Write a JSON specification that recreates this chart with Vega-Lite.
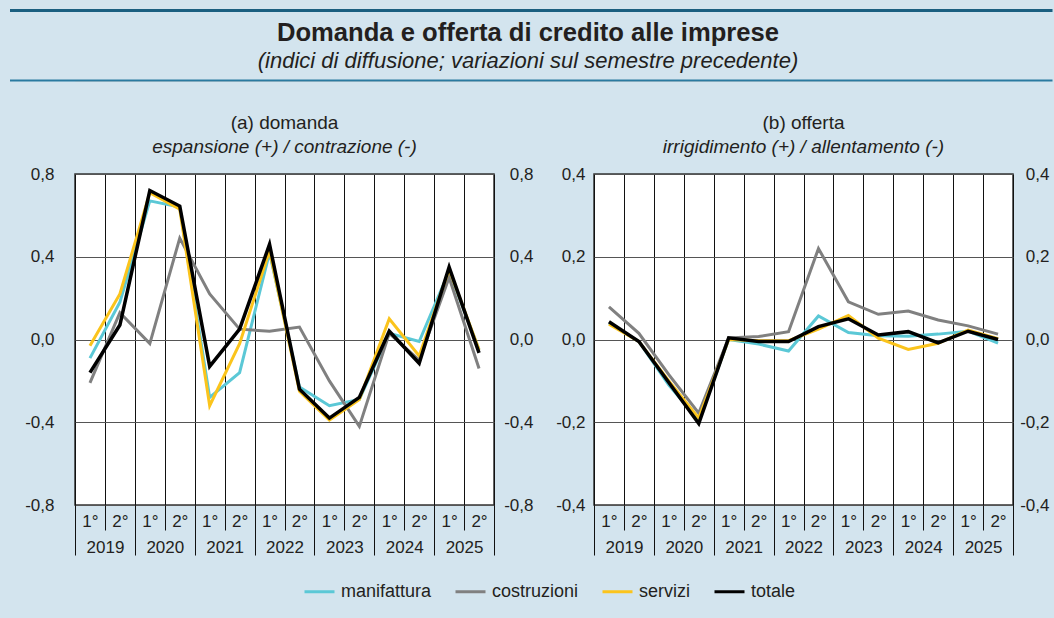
{
 "$schema": "https://vega.github.io/schema/vega-lite/v6.json",
 "background": "#d3e4ee",
 "padding": {"left": 9, "top": 9, "right": 0, "bottom": 17},
 "config": {
  "locale": {"number": {"decimal": ",", "thousands": ".", "grouping": [3], "currency": ["", " €"], "minus": "-"}},
  "font": "Liberation Sans",
  "axis": {"labelFont": "Liberation Sans", "labelFontSize": 17, "labelColor": "#231f20", "domain": false, "title": null, "labelOverlap": false, "labelFlush": false},
  "title": {"font": "Liberation Sans", "fontSize": 19, "fontWeight": "normal", "color": "#231f20", "subtitleFont": "Liberation Sans", "subtitleFontSize": 19, "subtitleFontStyle": "italic", "subtitleColor": "#231f20", "subtitlePadding": 5},
  "legend": {"labelFont": "Liberation Sans", "labelFontSize": 18, "labelColor": "#231f20"}
 },
 "data": {"values": [
  {"pannello":"a","serie":"manifattura","t":2019.25,"valore":-0.09},
  {"pannello":"a","serie":"manifattura","t":2019.75,"valore":0.18},
  {"pannello":"a","serie":"manifattura","t":2020.25,"valore":0.67},
  {"pannello":"a","serie":"manifattura","t":2020.75,"valore":0.64},
  {"pannello":"a","serie":"manifattura","t":2021.25,"valore":-0.28},
  {"pannello":"a","serie":"manifattura","t":2021.75,"valore":-0.16},
  {"pannello":"a","serie":"manifattura","t":2022.25,"valore":0.42},
  {"pannello":"a","serie":"manifattura","t":2022.75,"valore":-0.23},
  {"pannello":"a","serie":"manifattura","t":2023.25,"valore":-0.32},
  {"pannello":"a","serie":"manifattura","t":2023.75,"valore":-0.29},
  {"pannello":"a","serie":"manifattura","t":2024.25,"valore":0.03},
  {"pannello":"a","serie":"manifattura","t":2024.75,"valore":-0.01},
  {"pannello":"a","serie":"manifattura","t":2025.25,"valore":0.33},
  {"pannello":"a","serie":"manifattura","t":2025.75,"valore":-0.05},
  {"pannello":"a","serie":"costruzioni","t":2019.25,"valore":-0.21},
  {"pannello":"a","serie":"costruzioni","t":2019.75,"valore":0.13},
  {"pannello":"a","serie":"costruzioni","t":2020.25,"valore":-0.02},
  {"pannello":"a","serie":"costruzioni","t":2020.75,"valore":0.49},
  {"pannello":"a","serie":"costruzioni","t":2021.25,"valore":0.22},
  {"pannello":"a","serie":"costruzioni","t":2021.75,"valore":0.05},
  {"pannello":"a","serie":"costruzioni","t":2022.25,"valore":0.04},
  {"pannello":"a","serie":"costruzioni","t":2022.75,"valore":0.06},
  {"pannello":"a","serie":"costruzioni","t":2023.25,"valore":-0.2},
  {"pannello":"a","serie":"costruzioni","t":2023.75,"valore":-0.42},
  {"pannello":"a","serie":"costruzioni","t":2024.25,"valore":0.03},
  {"pannello":"a","serie":"costruzioni","t":2024.75,"valore":-0.1},
  {"pannello":"a","serie":"costruzioni","t":2025.25,"valore":0.3},
  {"pannello":"a","serie":"costruzioni","t":2025.75,"valore":-0.14},
  {"pannello":"a","serie":"servizi","t":2019.25,"valore":-0.03},
  {"pannello":"a","serie":"servizi","t":2019.75,"valore":0.22},
  {"pannello":"a","serie":"servizi","t":2020.25,"valore":0.71},
  {"pannello":"a","serie":"servizi","t":2020.75,"valore":0.63},
  {"pannello":"a","serie":"servizi","t":2021.25,"valore":-0.32},
  {"pannello":"a","serie":"servizi","t":2021.75,"valore":-0.02},
  {"pannello":"a","serie":"servizi","t":2022.25,"valore":0.43},
  {"pannello":"a","serie":"servizi","t":2022.75,"valore":-0.25},
  {"pannello":"a","serie":"servizi","t":2023.25,"valore":-0.39},
  {"pannello":"a","serie":"servizi","t":2023.75,"valore":-0.29},
  {"pannello":"a","serie":"servizi","t":2024.25,"valore":0.1},
  {"pannello":"a","serie":"servizi","t":2024.75,"valore":-0.08},
  {"pannello":"a","serie":"servizi","t":2025.25,"valore":0.34},
  {"pannello":"a","serie":"servizi","t":2025.75,"valore":-0.05},
  {"pannello":"a","serie":"totale","t":2019.25,"valore":-0.16},
  {"pannello":"a","serie":"totale","t":2019.75,"valore":0.07},
  {"pannello":"a","serie":"totale","t":2020.25,"valore":0.72},
  {"pannello":"a","serie":"totale","t":2020.75,"valore":0.645},
  {"pannello":"a","serie":"totale","t":2021.25,"valore":-0.13},
  {"pannello":"a","serie":"totale","t":2021.75,"valore":0.05},
  {"pannello":"a","serie":"totale","t":2022.25,"valore":0.46},
  {"pannello":"a","serie":"totale","t":2022.75,"valore":-0.24},
  {"pannello":"a","serie":"totale","t":2023.25,"valore":-0.38},
  {"pannello":"a","serie":"totale","t":2023.75,"valore":-0.28},
  {"pannello":"a","serie":"totale","t":2024.25,"valore":0.04},
  {"pannello":"a","serie":"totale","t":2024.75,"valore":-0.115},
  {"pannello":"a","serie":"totale","t":2025.25,"valore":0.35},
  {"pannello":"a","serie":"totale","t":2025.75,"valore":-0.065},
  {"pannello":"b","serie":"manifattura","t":2019.25,"valore":0.04},
  {"pannello":"b","serie":"manifattura","t":2019.75,"valore":-0.005},
  {"pannello":"b","serie":"manifattura","t":2020.25,"valore":-0.11},
  {"pannello":"b","serie":"manifattura","t":2020.75,"valore":-0.195},
  {"pannello":"b","serie":"manifattura","t":2021.25,"valore":0.0},
  {"pannello":"b","serie":"manifattura","t":2021.75,"valore":-0.011},
  {"pannello":"b","serie":"manifattura","t":2022.25,"valore":-0.028},
  {"pannello":"b","serie":"manifattura","t":2022.75,"valore":0.057},
  {"pannello":"b","serie":"manifattura","t":2023.25,"valore":0.017},
  {"pannello":"b","serie":"manifattura","t":2023.75,"valore":0.009},
  {"pannello":"b","serie":"manifattura","t":2024.25,"valore":0.008},
  {"pannello":"b","serie":"manifattura","t":2024.75,"valore":0.013},
  {"pannello":"b","serie":"manifattura","t":2025.25,"valore":0.02},
  {"pannello":"b","serie":"manifattura","t":2025.75,"valore":-0.009},
  {"pannello":"b","serie":"costruzioni","t":2019.25,"valore":0.079},
  {"pannello":"b","serie":"costruzioni","t":2019.75,"valore":0.015},
  {"pannello":"b","serie":"costruzioni","t":2020.25,"valore":-0.085},
  {"pannello":"b","serie":"costruzioni","t":2020.75,"valore":-0.178},
  {"pannello":"b","serie":"costruzioni","t":2021.25,"valore":0.004},
  {"pannello":"b","serie":"costruzioni","t":2021.75,"valore":0.007},
  {"pannello":"b","serie":"costruzioni","t":2022.25,"valore":0.019},
  {"pannello":"b","serie":"costruzioni","t":2022.75,"valore":0.22},
  {"pannello":"b","serie":"costruzioni","t":2023.25,"valore":0.091},
  {"pannello":"b","serie":"costruzioni","t":2023.75,"valore":0.061},
  {"pannello":"b","serie":"costruzioni","t":2024.25,"valore":0.069},
  {"pannello":"b","serie":"costruzioni","t":2024.75,"valore":0.047},
  {"pannello":"b","serie":"costruzioni","t":2025.25,"valore":0.033},
  {"pannello":"b","serie":"costruzioni","t":2025.75,"valore":0.013},
  {"pannello":"b","serie":"servizi","t":2019.25,"valore":0.037},
  {"pannello":"b","serie":"servizi","t":2019.75,"valore":-0.005},
  {"pannello":"b","serie":"servizi","t":2020.25,"valore":-0.1},
  {"pannello":"b","serie":"servizi","t":2020.75,"valore":-0.19},
  {"pannello":"b","serie":"servizi","t":2021.25,"valore":0.0},
  {"pannello":"b","serie":"servizi","t":2021.75,"valore":-0.003},
  {"pannello":"b","serie":"servizi","t":2022.25,"valore":-0.003},
  {"pannello":"b","serie":"servizi","t":2022.75,"valore":0.025},
  {"pannello":"b","serie":"servizi","t":2023.25,"valore":0.058},
  {"pannello":"b","serie":"servizi","t":2023.75,"valore":0.003},
  {"pannello":"b","serie":"servizi","t":2024.25,"valore":-0.024},
  {"pannello":"b","serie":"servizi","t":2024.75,"valore":-0.009},
  {"pannello":"b","serie":"servizi","t":2025.25,"valore":0.023},
  {"pannello":"b","serie":"servizi","t":2025.75,"valore":0.002},
  {"pannello":"b","serie":"totale","t":2019.25,"valore":0.043},
  {"pannello":"b","serie":"totale","t":2019.75,"valore":-0.005},
  {"pannello":"b","serie":"totale","t":2020.25,"valore":-0.104},
  {"pannello":"b","serie":"totale","t":2020.75,"valore":-0.203},
  {"pannello":"b","serie":"totale","t":2021.25,"valore":0.004},
  {"pannello":"b","serie":"totale","t":2021.75,"valore":-0.005},
  {"pannello":"b","serie":"totale","t":2022.25,"valore":-0.005},
  {"pannello":"b","serie":"totale","t":2022.75,"valore":0.031},
  {"pannello":"b","serie":"totale","t":2023.25,"valore":0.05},
  {"pannello":"b","serie":"totale","t":2023.75,"valore":0.011},
  {"pannello":"b","serie":"totale","t":2024.25,"valore":0.019},
  {"pannello":"b","serie":"totale","t":2024.75,"valore":-0.008},
  {"pannello":"b","serie":"totale","t":2025.25,"valore":0.02},
  {"pannello":"b","serie":"totale","t":2025.75,"valore":0.0}
 ]},
 "spacing": 6,
 "vconcat": [
  {
   "width": 906, "height": 1,
   "data": {"values": [{}]},
   "mark": {"type": "point", "opacity": 0, "size": 0},
   "encoding": {"x": {"datum": 0, "type": "quantitative", "scale": {"domain": [0, 1], "range": [-65.5, 977]},
     "axis": {"orient": "top", "domain": true, "domainColor": "#1a5f80", "domainWidth": 3, "labels": false, "ticks": false, "grid": false, "title": null}}},
   "title": {"text": "Domanda e offerta di credito alle imprese", "subtitle": "(indici di diffusione; variazioni sul semestre precedente)", "orient": "bottom", "anchor": "middle", "frame": "group", "fontSize": 25.6, "fontWeight": "bold", "subtitleFontSize": 22, "subtitleFontStyle": "italic", "subtitlePadding": 4, "offset": 10}
  },
  {
   "width": 906, "height": 1,
   "data": {"values": [{}]},
   "mark": {"type": "point", "opacity": 0, "size": 0},
   "encoding": {"x": {"datum": 0, "type": "quantitative", "scale": {"domain": [0, 1], "range": [-65.5, 977]},
     "axis": {"orient": "top", "domain": true, "domainColor": "#2a7aa0", "domainWidth": 2, "labels": false, "ticks": false, "grid": false, "title": null}}}
  },
  {
   "spacing": -2,
   "hconcat": [
    {
     "width": 419, "height": 331,
     "transform": [{"filter": "datum.pannello == 'a'"}],
     "title": {"text": ["", "(a) domanda"], "subtitle": "espansione (+) / contrazione (-)", "frame": "group", "anchor": "middle", "offset": 8, "lineHeight": 25},
     "view": {"fill": "white", "stroke": "#333333", "strokeWidth": 1.5},
     "layer": [
      {
       "mark": {"type": "line"},
       "encoding": {
        "x": {"field": "t", "type": "quantitative", "scale": {"domain": [2019, 2026], "nice": false, "zero": false},
              "axis": {"orient": "bottom", "values": [2019,2019.5,2020,2020.5,2021,2021.5,2022,2022.5,2023,2023.5,2024,2024.5,2025,2025.5,2026], "grid": true, "gridColor": "#111111", "gridWidth": 1, "ticks": true, "tickSize": 25, "tickColor": "#111111", "tickWidth": 1, "labels": false}},
        "y": {"field": "valore", "type": "quantitative", "scale": {"domain": [-0.8, 0.8], "nice": false, "zero": false},
              "axis": {"orient": "left", "values": [-0.8,-0.4,0,0.4,0.8], "format": ".1f", "grid": true, "gridColor": "#555555", "gridWidth": 1, "ticks": false, "labelPadding": 21, "minExtent": 65}},
        "color": {"field": "serie", "type": "nominal", "title": null,
                  "scale": {"domain": ["manifattura", "costruzioni", "servizi", "totale"], "range": ["#5bc8d6", "#808080", "#fbc41c", "#000000"]},
                  "legend": {"orient": "none", "legendX": 228, "legendY": 565, "direction": "horizontal", "symbolType": "stroke", "symbolSize": 900, "symbolStrokeWidth": 3, "columnPadding": 17, "labelOffset": 5}},
        "strokeWidth": {"condition": {"test": "datum.serie === 'totale'", "value": 3.5}, "value": 3}
       }
      },
      {
       "mark": {"type": "point", "opacity": 0},
       "encoding": {
        "x": {"field": "t", "type": "quantitative", "scale": {"domain": [2019, 2026], "nice": false, "zero": false},
              "axis": {"orient": "bottom", "values": [2019,2020,2021,2022,2023,2024,2025,2026], "grid": false, "ticks": true, "tickSize": 50, "tickColor": "#111111", "tickWidth": 1, "labels": false}},
        "y": {"field": "valore", "type": "quantitative", "scale": {"domain": [-0.8, 0.8], "nice": false, "zero": false},
              "axis": {"orient": "right", "values": [-0.8,-0.4,0,0.4,0.8], "format": ".1f", "grid": false, "ticks": false, "labelAlign": "right", "labelPadding": 39, "minExtent": 50}}
       }
      },
      {
       "mark": {"type": "point", "opacity": 0},
       "encoding": {
        "x": {"field": "t", "type": "quantitative", "scale": {"domain": [2019, 2026], "nice": false, "zero": false},
              "axis": {"orient": "bottom", "values": [2019.25,2019.75,2020.25,2020.75,2021.25,2021.75,2022.25,2022.75,2023.25,2023.75,2024.25,2024.75,2025.25,2025.75], "grid": false, "ticks": false, "labelPadding": 8, "labelExpr": "(datum.value % 1) < 0.5 ? '1°' : '2°'"}},
        "y": {"field": "valore", "type": "quantitative", "scale": {"domain": [-0.8, 0.8], "nice": false, "zero": false}, "axis": null}
       }
      },
      {
       "mark": {"type": "point", "opacity": 0},
       "encoding": {
        "x": {"field": "t", "type": "quantitative", "scale": {"domain": [2019, 2026], "nice": false, "zero": false},
              "axis": {"orient": "bottom", "values": [2019.5,2020.5,2021.5,2022.5,2023.5,2024.5,2025.5], "grid": false, "ticks": false, "labelPadding": 34, "labelExpr": "'' + floor(datum.value)"}},
        "y": {"field": "valore", "type": "quantitative", "scale": {"domain": [-0.8, 0.8], "nice": false, "zero": false}, "axis": null}
       }
      }
     ],
     "resolve": {"axis": {"x": "independent", "y": "independent"}}
    },
    {
     "width": 419, "height": 331,
     "transform": [{"filter": "datum.pannello == 'b'"}],
     "title": {"text": ["", "(b) offerta"], "subtitle": "irrigidimento (+) / allentamento (-)", "frame": "group", "anchor": "middle", "offset": 8, "lineHeight": 25},
     "view": {"fill": "white", "stroke": "#333333", "strokeWidth": 1.5},
     "layer": [
      {
       "mark": {"type": "line"},
       "encoding": {
        "x": {"field": "t", "type": "quantitative", "scale": {"domain": [2019, 2026], "nice": false, "zero": false},
              "axis": {"orient": "bottom", "values": [2019,2019.5,2020,2020.5,2021,2021.5,2022,2022.5,2023,2023.5,2024,2024.5,2025,2025.5,2026], "grid": true, "gridColor": "#111111", "gridWidth": 1, "ticks": true, "tickSize": 25, "tickColor": "#111111", "tickWidth": 1, "labels": false}},
        "y": {"field": "valore", "type": "quantitative", "scale": {"domain": [-0.4, 0.4], "nice": false, "zero": false},
              "axis": {"orient": "left", "values": [-0.4,-0.2,0,0.2,0.4], "format": ".1f", "grid": true, "gridColor": "#555555", "gridWidth": 1, "ticks": false, "labelPadding": 9, "minExtent": 50}},
        "color": {"field": "serie", "type": "nominal", "title": null,
                  "scale": {"domain": ["manifattura", "costruzioni", "servizi", "totale"], "range": ["#5bc8d6", "#808080", "#fbc41c", "#000000"]},
                  "legend": {"orient": "none", "legendX": 228, "legendY": 565, "direction": "horizontal", "symbolType": "stroke", "symbolSize": 900, "symbolStrokeWidth": 3, "columnPadding": 17, "labelOffset": 5}},
        "strokeWidth": {"condition": {"test": "datum.serie === 'totale'", "value": 3.5}, "value": 3}
       }
      },
      {
       "mark": {"type": "point", "opacity": 0},
       "encoding": {
        "x": {"field": "t", "type": "quantitative", "scale": {"domain": [2019, 2026], "nice": false, "zero": false},
              "axis": {"orient": "bottom", "values": [2019,2020,2021,2022,2023,2024,2025,2026], "grid": false, "ticks": true, "tickSize": 50, "tickColor": "#111111", "tickWidth": 1, "labels": false}},
        "y": {"field": "valore", "type": "quantitative", "scale": {"domain": [-0.4, 0.4], "nice": false, "zero": false},
              "axis": {"orient": "right", "values": [-0.4,-0.2,0,0.2,0.4], "format": ".1f", "grid": false, "ticks": false, "labelAlign": "right", "labelPadding": 36, "minExtent": 38}}
       }
      },
      {
       "mark": {"type": "point", "opacity": 0},
       "encoding": {
        "x": {"field": "t", "type": "quantitative", "scale": {"domain": [2019, 2026], "nice": false, "zero": false},
              "axis": {"orient": "bottom", "values": [2019.25,2019.75,2020.25,2020.75,2021.25,2021.75,2022.25,2022.75,2023.25,2023.75,2024.25,2024.75,2025.25,2025.75], "grid": false, "ticks": false, "labelPadding": 8, "labelExpr": "(datum.value % 1) < 0.5 ? '1°' : '2°'"}},
        "y": {"field": "valore", "type": "quantitative", "scale": {"domain": [-0.4, 0.4], "nice": false, "zero": false}, "axis": null}
       }
      },
      {
       "mark": {"type": "point", "opacity": 0},
       "encoding": {
        "x": {"field": "t", "type": "quantitative", "scale": {"domain": [2019, 2026], "nice": false, "zero": false},
              "axis": {"orient": "bottom", "values": [2019.5,2020.5,2021.5,2022.5,2023.5,2024.5,2025.5], "grid": false, "ticks": false, "labelPadding": 34, "labelExpr": "'' + floor(datum.value)"}},
        "y": {"field": "valore", "type": "quantitative", "scale": {"domain": [-0.4, 0.4], "nice": false, "zero": false}, "axis": null}
       }
      }
     ],
     "resolve": {"axis": {"x": "independent", "y": "independent"}}
    }
   ]
  }
 ]
}
